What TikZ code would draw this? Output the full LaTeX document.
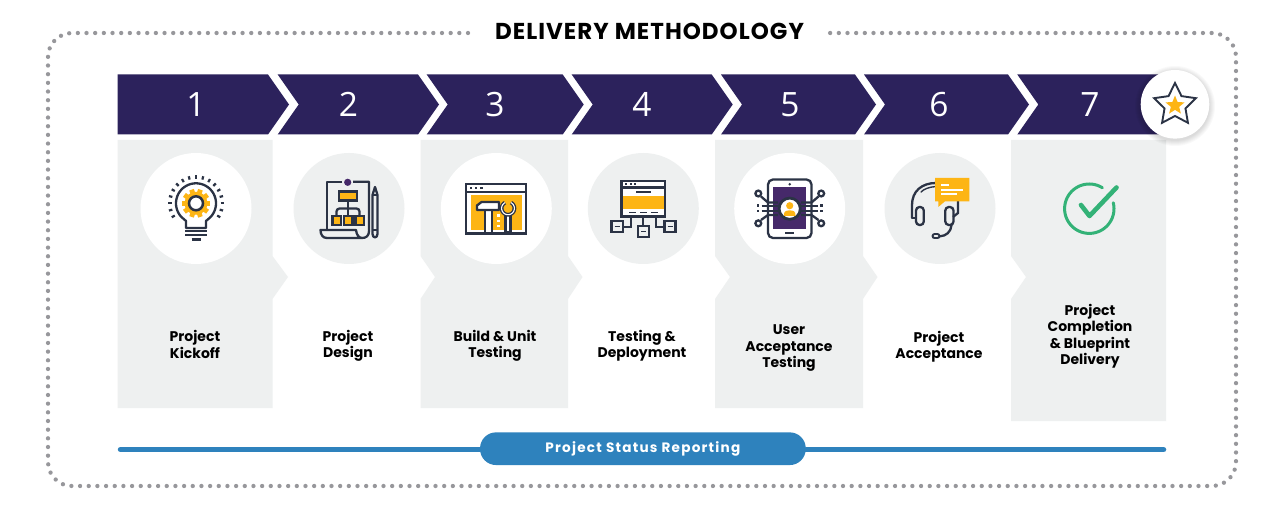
\documentclass[tikz,border=0pt]{standalone}
\usepackage{fontspec}
\usetikzlibrary{shapes.geometric}
\setmainfont{Poppins}
\newfontfamily\digitfont{Open Sans}
\newfontfamily\titlefont[LetterSpace=4.5]{Poppins}
\newfontfamily\pillfont[LetterSpace=9]{Poppins}
\definecolor{navy}{HTML}{2C225C}
\definecolor{panel}{HTML}{EEF0F0}
\definecolor{ink}{HTML}{2B3345}
\definecolor{amber}{HTML}{FDB515}
\definecolor{dotgrey}{HTML}{97979B}
\definecolor{barblue}{HTML}{2E82BD}
\definecolor{plum}{HTML}{46296A}
\definecolor{okgreen}{HTML}{33B277}
\tikzset{
  x=1pt,y=-1pt,
  digit/.style={text=white,font=\digitfont\fontsize{33.5}{33.5}\selectfont,inner sep=0},
  stage/.style={text=black,font=\bfseries\fontsize{14}{16.3}\selectfont,align=center,inner sep=0},
  ln/.style={draw=ink,line width=2.3pt},
  halo/.style={fill=black,opacity=0.025},
}
\newcommand{\chev}[2]{\fill[navy] (#1,74.5) -- (#2,74.5) -- (#2+21,104.5) -- (#2,134.5) -- (#1,134.5) -- (#1+21,104.5) -- cycle;}
\begin{document}
\begin{tikzpicture}
\useasboundingbox (0,0) rectangle (1280,505);
\fill[white] (0,0) rectangle (1280,505);
% dotted frame
\draw[dotgrey,line width=4.3pt,line cap=round,dash pattern=on 0pt off 8.67pt,rounded corners=24pt]
  (468,33) -- (48,33) -- (48,486) -- (1236,486) -- (1236,33) -- (828,33);
\node[inner sep=0,text=black,font=\titlefont\bfseries\fontsize{23}{23}\selectfont] (title) at (649.5,31) {DELIVERY METHODOLOGY};
% panels
\fill[panel] (117.5,140) -- (272.5,140) -- (272.5,256) -- (288,277) -- (272.5,299) -- (272.5,408) -- (117.5,408) -- cycle;
\fill[panel] (420.5,140) -- (568,140) -- (568,256) -- (582.5,277) -- (568,299) -- (568,408) -- (420.5,408) -- (420.5,299) -- (435,277) -- (420.5,256) -- cycle;
\fill[panel] (715,140) -- (863,140) -- (863,256) -- (877.5,277) -- (863,299) -- (863,408) -- (715,408) -- (715,299) -- (730,277) -- (715,256) -- cycle;
\fill[panel] (1011,140) -- (1166,140) -- (1166,421) -- (1011,421) -- (1011,299) -- (1026,277) -- (1011,256) -- cycle;
% chevrons
\fill[navy] (117.5,74.5) -- (268,74.5) -- (289,104.5) -- (268,134.5) -- (117.5,134.5) -- cycle;
\chev{277.7}{418}
\chev{426.7}{562.7}
\chev{571.7}{711.7}
\chev{721}{855}
\chev{864}{1008}
\fill[navy] (1017.3,74.5) -- (1165,74.5) -- (1165,134.5) -- (1017.3,134.5) -- (1038.3,104.5) -- cycle;
\node[digit] (d1) at (196,104.5) {1};
\node[digit] (d2) at (348.5,104.5) {2};
\node[digit] (d3) at (495,104.5) {3};
\node[digit] (d4) at (642,104.5) {4};
\node[digit] (d5) at (790,104.5) {5};
\node[digit] (d6) at (939,104.5) {6};
\node[digit] (d7) at (1090,104.5) {7};
% star badge
\foreach \r in {40,39,38,37,36,35} \fill[halo] (1175,106) circle (\r);
\fill[white] (1175,104.3) circle (34.3);
\node[star,star points=5,star point ratio=2.0,draw=ink,line width=1.9pt,fill=white,minimum size=44pt,inner sep=0] (bigstar) at (1175,105) {};
\node[star,star points=5,star point ratio=2.3,fill=amber,minimum size=20pt,inner sep=0] (smallstar) at (1175,105.5) {};
% icon discs
\fill[white] (196,208.5) circle (55.5);
\fill[panel] (349,208.5) circle (55.5);
\fill[white] (496.3,208.5) circle (55.5);
\fill[panel] (643.3,208.5) circle (55.5);
\fill[white] (789.7,208.5) circle (55.5);
\fill[panel] (940,208.5) circle (55.5);
% icon 1: bulb
\begin{scope}[shift={(196,203.3)}]
  \foreach \a in {0,36,...,324}
    \fill[amber,rotate=\a+18] (-2.4,-14.3) rectangle (2.4,0);
  \fill[amber] (0,0) circle (11.5);
  \filldraw[ln,fill=white,line width=2.5pt] (0,0) circle (7);
  \foreach \a in {-30,-15,...,210}
    \draw[ink,line width=2.2pt] ({24.5*cos(\a)},{-24.5*sin(\a)}) -- ({28*cos(\a)},{-28*sin(\a)});
\end{scope}
\draw[ln,line join=round] (186,228) -- (186,221) -- (182,217.5)
  -- plot[domain=225:-45,samples=50] ({196+20*cos(\x)},{203.3-20*sin(\x)})
  -- (206,221) -- (206,228) -- cycle;
\draw[ln] (185,231) -- (207,231) (185,235.3) -- (207,235.3);
\draw[ln] (191.5,239.6) -- (201,239.6);
% icon 2: plan
\draw[ln,line join=round] (342,181.7) -- (327.3,181.7) -- (327.3,230);
\draw[ln,line join=round] (353,181.7) -- (369,181.7) -- (369,231) .. controls (369,236) and (366,238) .. (362,238)
  -- (327,238) .. controls (323,238) and (320.5,235) .. (320.5,230) -- (356,230) .. controls (356.5,235) and (359,238) .. (362,238);
\fill[plum] (347.7,182.3) circle (3.6);
\filldraw[ln,fill=amber] (339.3,191.5) rectangle (356.7,200.5);
\draw[ln] (348,200.5) -- (348,215);
\draw[ln,rounded corners=3pt] (336.5,215) -- (336.5,208.5) -- (359.5,208.5) -- (359.5,215);
\filldraw[ink,fill=amber,line width=2.8pt] (332.6,216) rectangle (341,225);
\filldraw[ink,fill=amber,line width=2.8pt] (344,216) rectangle (352.4,225);
\filldraw[ink,fill=amber,line width=2.8pt] (355.4,216) rectangle (364,225);
\draw[ln,line join=round] (372.5,195) -- (375,187) -- (377.5,195) -- (377.5,234) .. controls (377.5,238.5) and (372.5,238.5) .. (372.5,234) -- cycle;
\draw[ln] (372.5,195) -- (377.5,195) (372.5,230) -- (377.5,230);
% icon 3: tools window
\filldraw[ln,fill=white] (466,184) rectangle (526,233.5);
\draw[ln] (466,192) -- (526,192);
\foreach \x in {470.7,476,481.3} \fill[ink] (\x-1.2,186.8) rectangle (\x+1.2,189.2);
\fill[amber] (470.7,195) rectangle (521.7,230);
\filldraw[ln,fill=white] (485.2,209) rectangle (491.7,233);
\filldraw[ln,fill=white,line join=round] (477,205.5) -- (481.5,202) -- (499,202) -- (499,210) -- (477,210) -- cycle;
\fill[ink] (504,213) rectangle (512,233);
\fill[white] (506.8,214) rectangle (509.2,231);
\draw[ink,line width=3.8pt] plot[domain=62:-242,samples=30] ({508+6.4*cos(\x)},{208.3-6.4*sin(\x)});
\draw[white,line width=1.1pt] plot[domain=62:-242,samples=30] ({508+6.4*cos(\x)},{208.3-6.4*sin(\x)});
\foreach \y in {215.7,221,226} \fill[white] (497.1,\y-1.2) rectangle (499.6,\y+1.2);
% icon 4: network window
\draw[ln] (630.7,216) -- (630.7,226.7) -- (622.7,226.7);
\draw[ln] (643.3,216) -- (643.3,226);
\draw[ln] (656,216) -- (656,226.7) -- (664.3,226.7);
\filldraw[ln,fill=white] (621.5,181) rectangle (665,216.5);
\draw[ln] (621.5,187.5) -- (665,187.5);
\foreach \x in {625.7,630.5,635.2} \fill[ink] (\x-1,183) rectangle (\x+1,185);
\fill[amber] (622.6,196) rectangle (663.9,209);
\draw[ink,line width=1.8pt] (636,192.3) -- (651,192.3);
\foreach \x in {629,640,650.7} \draw[ink,line width=1.8pt] (\x,212.5) -- (\x+7.2,212.5);
\filldraw[ln,fill=panel] (611.5,221) rectangle (622.7,232);
\filldraw[ln,fill=panel] (638,226) rectangle (649,236.8);
\filldraw[ln,fill=panel] (664.5,221) rectangle (675.5,232);
\foreach \x/\y in {617/226.5,643.5/231.4,670/226.5} \draw[ink,line width=1.6pt] (\x-2.5,\y) -- (\x+2.5,\y);
% icon 5: tablet
\fill[plum] (773.3,187.3) rectangle (806.3,229);
\draw[ln,rounded corners=5pt] (768,179.5) rectangle (811.5,238);
\fill[ink] (789.7,184.3) circle (1.4);
\draw[ink,line width=2.2pt] (785,233) -- (794.4,233);
\draw[ln,line join=round] (761,196.5) -- (768,202.5) -- (778,202.5);
\draw[ln,line join=round] (761,220) -- (768,215) -- (778,215);
\draw[ln] (761.5,205.7) -- (779,205.7) (761.5,211) -- (779,211);
\draw[ln,line join=round] (818.5,196.5) -- (811.5,202.5) -- (801,202.5);
\draw[ln,line join=round] (818.5,220) -- (811.5,215) -- (801,215);
\draw[ln] (818,205.7) -- (800,205.7) (818,211) -- (800,211);
\foreach \x in {758.3,821.2} {
  \filldraw[ln,fill=white] (\x,193.5) circle (2.9);
  \filldraw[ln,fill=white] (\x,223.3) circle (2.9);
}
\foreach \x in {758,821.4} {\fill[ink] (\x-1.3,204.5) rectangle (\x+1.3,207); \fill[ink] (\x-1.3,209.8) rectangle (\x+1.3,212.3);}
\filldraw[ink,fill=white,line width=2.8pt] (789.7,208.7) circle (10.6);
\fill[amber] (789.7,205.7) circle (3.6);
\fill[amber] (783.8,216) .. controls (783.8,211) and (786,210.4) .. (789.7,210.4) .. controls (793.4,210.4) and (795.6,211) .. (795.6,216) -- cycle;
% icon 6: headset
\draw[ln,line cap=round] (912,218) -- (912,205) .. controls (912,191) and (922,183) .. (936,183);
\draw[ink,line width=1.4pt,line cap=round] (921,192) .. controls (924,189) and (929,187) .. (936,186.5);
\draw[ln] (958,201) -- (958,213) -- (953,217);
\draw[ln] (912,218) -- (916,218);
\draw[ln,rounded corners=3.5pt] (916,207) rectangle (923.8,225);
\draw[ln,rounded corners=3.5pt] (945.3,207) rectangle (953.5,225);
\draw[ln] (951.5,225) .. controls (951,232) and (946,236) .. (940,236.3);
\draw[ink,line width=6pt,line cap=round] (934.5,236.3) -- (937.5,236.3);
\draw[panel,line width=1.8pt,line cap=round] (934.5,236.3) -- (937.5,236.3);
\fill[amber] (935,178) -- (969.3,178) -- (969.3,201.3) -- (945,201.3) -- (938.3,207) -- (938.3,201.3) -- (935,201.3) -- cycle;
\draw[white,line width=1.7pt] (941.3,184.7) -- (949.3,184.7) (941.3,189.7) -- (962.7,189.7) (941.3,194) -- (957.3,194);
% icon 7: check
\draw[okgreen,line width=3pt,line cap=round] plot[domain=14:-302,samples=70] ({1089.3+24.7*cos(\x)},{208.7-24.7*sin(\x)});
\draw[okgreen,line width=4.6pt,line cap=round,line join=round] (1081,205) -- (1089.5,216) -- (1116.5,187.5);
% stage labels
\node[stage] (s1) at (195,344.3) {Project\\Kickoff};
\node[stage] (s2) at (348,346) {Project\\Design};
\node[stage] (s3) at (495,345.5) {Build \& Unit\\Testing};
\node[stage] (s4) at (642,346) {Testing \&\\Deployment};
\node[stage] (s5) at (789,348.3) {User\\Acceptance\\Testing};
\node[stage] (s6) at (939,347) {Project\\Acceptance};
\node[stage] (s7) at (1090,336.3) {Project\\Completion\\\& Blueprint\\Delivery};
% status bar
\coordinate (barL) at (120.5,449.6);
\coordinate (barR) at (1163.5,449.6);
\node[fill=barblue,rounded corners=16pt,minimum width=325.7pt,minimum height=32.7pt,inner sep=0,text=white,font=\pillfont\bfseries\fontsize{13.6}{13.6}\selectfont] (pill) at (642.9,448.7) {Project Status Reporting};
\draw[barblue,line width=5.5pt,line cap=round] (barL) -- (pill.west |- barL);
\draw[barblue,line width=5.5pt,line cap=round] (pill.east |- barR) -- (barR);
\end{tikzpicture}
\end{document}
